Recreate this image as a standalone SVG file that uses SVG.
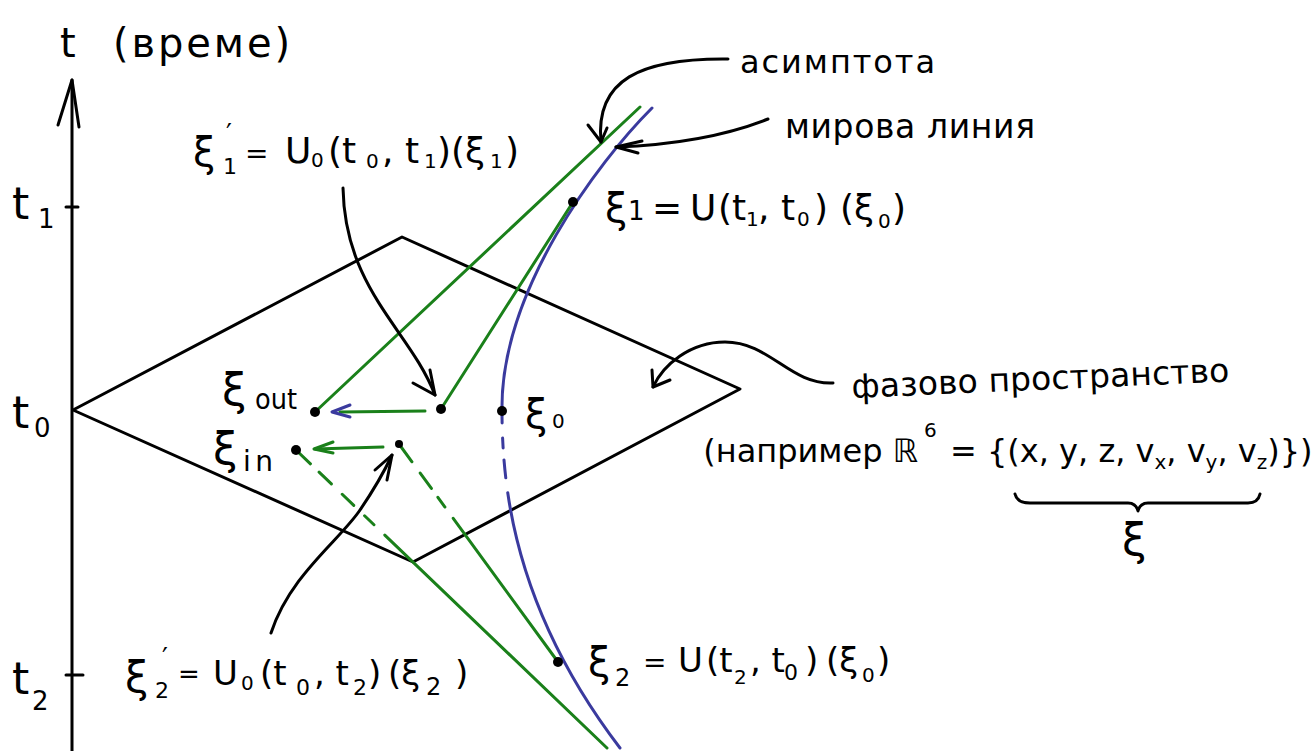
<svg xmlns="http://www.w3.org/2000/svg" width="1314" height="751" viewBox="0 0 1314 751">
<style>
.t{font-family:"DejaVu Sans","Liberation Sans",sans-serif;fill:#000}
.k{fill:none;stroke:#000;stroke-width:3;stroke-linecap:round;stroke-linejoin:round}
.g{fill:none;stroke:#1a801a;stroke-width:3;stroke-linecap:round;stroke-linejoin:round}
.b{fill:none;stroke:#3a3a9e;stroke-width:3;stroke-linecap:round;stroke-linejoin:round}
.dot{fill:#000}
</style>
<rect width="1314" height="751" fill="#fff"/>

<g id="time-axis">
<path class="k" d="M72,751 L72,80"/>
<path class="k" d="M58,125 L72,80 L79,127"/>
<path class="k" d="M66,207 L78,207"/>
<path class="k" d="M66,675 L83,675"/>
<text class="t" font-size="40"><tspan x="60" y="57">t</tspan><tspan x="113" y="57" textLength="177" lengthAdjust="spacing">(време)</tspan></text>
<text class="t" font-size="44"><tspan x="12" y="219">t</tspan><tspan x="38" y="228" font-size="26">1</tspan></text>
<text class="t" font-size="44"><tspan x="12" y="428">t</tspan><tspan x="34" y="437" font-size="26">0</tspan></text>
<text class="t" font-size="44"><tspan x="12" y="694">t</tspan><tspan x="32" y="710" font-size="26">2</tspan></text>
</g>

<g id="phase-space">
<path class="k" d="M73,410 L402,237 L740,389 L413,562 Z"/>
</g>

<g id="world-line">
<path class="b" d="M652,108 C598,162 500,292 502,411"/>
<path class="b" d="M502,411 C502,520 530,630 620,748" stroke-dasharray="12 15 10 12 18 15 2000"/>
</g>

<g id="asymptotes">
<path class="g" d="M315,412 L640,107"/>
<path class="g" d="M296,450 L607,748" stroke-dasharray="20 12 17 15 16 15 13 15 2000"/>
</g>

<g id="connectors">
<path class="g" d="M441,409 L573,202"/>
<path class="g" d="M399,444 L558,662" stroke-dasharray="22 14 19 11 12 14 2000"/>
<path class="g" d="M425,411 L340,412"/>
<path class="b" d="M350,405 L332,412 L350,417"/>
<path class="g" d="M383,447 L315,449"/>
<path class="g" d="M333,442 L314,449 L333,453"/>
<path class="k" d="M343,188 C345,290 410,330 435,395"/>
<path class="k" d="M413,383 L435,395 L430,370"/>
<path class="k" d="M271,633 C290,575 340,540 360,510 C375,488 385,470 392,455"/>
<path class="k" d="M375,470 L392,455 L387,480"/>
<path class="k" d="M728,59 C640,58 595,80 601,142"/>
<path class="k" d="M588,125 L601,142 L607,128"/>
<path class="k" d="M768,119 C720,138 670,145 616,147"/>
<path class="k" d="M642,141 L616,147 L638,153"/>
<path class="k" d="M833,383 C790,385 770,342 725,342 C690,342 663,365 653,387"/>
<path class="k" d="M652,370 L653,387 L670,380"/>
<path class="k" d="M1015,494 Q1017,503 1030,503 L1128,503 Q1136,503 1138,511 Q1140,503 1148,503 L1248,503 Q1258,503 1260,494"/>
</g>

<g id="node-xi0"><circle class="dot" cx="502" cy="411" r="5"/>
<text class="t"><tspan x="525" y="428" font-size="40">ξ</tspan><tspan x="552" y="428" font-size="20">0</tspan></text></g>
<g id="node-xi1"><circle class="dot" cx="573" cy="202" r="5"/>
<text class="t" font-size="36"><tspan x="605" y="222" font-size="40">ξ</tspan><tspan x="628" y="220" font-size="26">1</tspan><tspan x="652" y="220">=</tspan><tspan x="690" y="220">U</tspan><tspan x="718" y="220">(t</tspan><tspan x="746" y="226" font-size="20">1</tspan><tspan x="758" y="220">, t</tspan><tspan x="797" y="226" font-size="20">0</tspan><tspan x="814" y="220">)</tspan><tspan x="840" y="220">(ξ</tspan><tspan x="878" y="228" font-size="20">0</tspan><tspan x="892" y="220">)</tspan></text></g>
<g id="node-xi2"><circle class="dot" cx="558" cy="662" r="5"/>
<text class="t" font-size="34"><tspan x="588" y="676" font-size="40">ξ</tspan><tspan x="615" y="686" font-size="24">2</tspan><tspan x="643" y="672" font-size="28">=</tspan><tspan x="678" y="672">U</tspan><tspan x="706" y="672">(t</tspan><tspan x="734" y="684" font-size="20">2</tspan><tspan x="750" y="672">, t</tspan><tspan x="784" y="680" font-size="22">0</tspan><tspan x="805" y="672">)</tspan><tspan x="826" y="672">(ξ</tspan><tspan x="862" y="682" font-size="20">0</tspan><tspan x="877" y="672">)</tspan></text></g>
<g id="node-xi1-prime"><circle class="dot" cx="441" cy="409" r="5"/>
<text class="t" font-size="36"><tspan x="193" y="166" font-size="40">ξ</tspan><tspan x="223" y="174" font-size="22">1</tspan><tspan x="226" y="143" font-size="26">′</tspan><tspan x="245" y="163" font-size="28">=</tspan><tspan x="285" y="163">U</tspan><tspan x="311" y="167" font-size="20">0</tspan><tspan x="328" y="163">(t</tspan><tspan x="366" y="168" font-size="20">0</tspan><tspan x="382" y="163">, t</tspan><tspan x="424" y="168" font-size="20">1</tspan><tspan x="437" y="163">)(ξ</tspan><tspan x="490" y="168" font-size="20">1</tspan><tspan x="505" y="163">)</tspan></text></g>
<g id="node-xi2-prime"><circle class="dot" cx="399" cy="444" r="4"/>
<text class="t" font-size="34"><tspan x="125" y="692" font-size="42">ξ</tspan><tspan x="155" y="698" font-size="22">2</tspan><tspan x="162" y="667" font-size="26">′</tspan><tspan x="178" y="683" font-size="26">=</tspan><tspan x="213" y="685">U</tspan><tspan x="241" y="690" font-size="20">0</tspan><tspan x="260" y="685">(t</tspan><tspan x="296" y="695" font-size="22">0</tspan><tspan x="314" y="685">, t</tspan><tspan x="353" y="695" font-size="22">2</tspan><tspan x="368" y="685">)</tspan><tspan x="388" y="685">(ξ</tspan><tspan x="426" y="695" font-size="24">2</tspan><tspan x="455" y="685">)</tspan></text></g>
<g id="node-xi-out"><circle class="dot" cx="315" cy="412" r="5"/>
<text class="t"><tspan x="222" y="405" font-size="44">ξ</tspan><tspan x="255" y="409" font-size="28" textLength="42" lengthAdjust="spacingAndGlyphs">out</tspan></text></g>
<g id="node-xi-in"><circle class="dot" cx="296" cy="450" r="5"/>
<text class="t"><tspan x="213" y="464" font-size="44">ξ</tspan><tspan x="243" y="471" font-size="28" textLength="30" lengthAdjust="spacing">in</tspan></text></g>

<g id="labels">
<text class="t" x="740" y="73" font-size="32" textLength="195" lengthAdjust="spacing">асимптота</text>
<text class="t" x="785" y="138" font-size="33" textLength="250" lengthAdjust="spacing">мирова линия</text>
<text class="t" x="852" y="398" font-size="33" textLength="378" lengthAdjust="spacing" transform="rotate(-2.5 852 398)">фазово пространство</text>
<text class="t" x="918" y="462" font-size="32" text-anchor="end">(например ℝ</text>
<text class="t" x="924" y="437" font-size="20">6</text>
<text class="t" font-size="32"><tspan x="950" y="462">= {(x, y, z, v</tspan><tspan font-size="20" dy="7">x</tspan><tspan dy="-7">, v</tspan><tspan font-size="20" dy="7">y</tspan><tspan dy="-7">, v</tspan><tspan font-size="20" dy="7">z</tspan><tspan dy="-7">)})</tspan></text>
<text class="t" x="1122" y="555" font-size="44">ξ</text>
</g>
</svg>
